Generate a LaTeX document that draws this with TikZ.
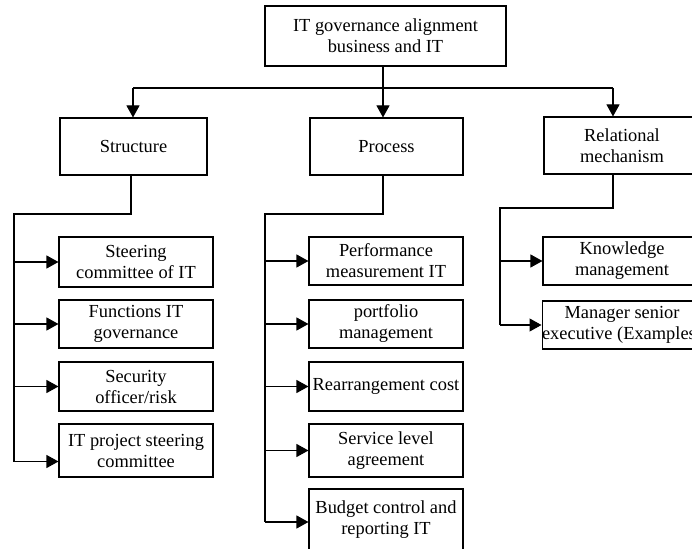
\documentclass[tikz,border=0pt]{standalone}
\usepackage{fontspec}
\setmainfont{Liberation Serif}
\usetikzlibrary{arrows.meta}
\begin{document}
\begin{tikzpicture}[x=1pt,y=1pt,
  box/.style={draw, line width=1.1pt, rectangle, inner sep=0pt, align=center,
    font=\fontsize{18.4}{21}\selectfont},
  link/.style={line width=1.1pt},
  arr/.style={line width=1.1pt, -{Triangle[length=12pt,width=13pt]}}]
\useasboundingbox (0,0) rectangle (692,-548);
\clip (0,0) rectangle (692,-548);
% top level
\node[box, minimum width=241pt, minimum height=60pt] (top) at (385.5,-36) {IT governance alignment\\business and IT};
\node[box, minimum width=147pt, minimum height=57pt] (struct) at (133.5,-146.5) {Structure};
\node[box, minimum width=153pt, minimum height=57pt] (proc) at (386.5,-146.5) {Process};
\node[box, minimum width=156pt, minimum height=57pt] (rel) at (622,-145.5) {Relational\\mechanism};
% structure children
\node[box, minimum width=154pt, minimum height=50pt] (s1) at (136,-262) {Steering\\committee of IT};
\node[box, minimum width=154pt, minimum height=48pt] (s2) at (136,-324) {Functions IT\\governance};
\node[box, minimum width=154pt, minimum height=49pt] (s3) at (136,-386.5) {Security\\officer/risk};
\node[box, minimum width=154pt, minimum height=53pt] (s4) at (136,-450.5) {IT project steering\\committee};
% process children
\node[box, minimum width=154pt, minimum height=48pt] (p1) at (386,-261) {Performance\\measurement IT};
\node[box, minimum width=154pt, minimum height=48pt] (p2) at (386,-324) {portfolio\\management};
\node[box, minimum width=154pt, minimum height=49pt] (p3) at (386,-386.5) {Rearrangement cost};
\node[box, minimum width=154pt, minimum height=53pt] (p4) at (386,-450.5) {Service level\\agreement};
\node[box, minimum width=154pt, minimum height=63pt, text depth=6pt] (p5) at (386,-520.5) {Budget control and\\reporting IT};
% relational children
\node[box, minimum width=158pt, minimum height=48pt] (r1) at (622,-261) {Knowledge\\management};
\node[box, minimum width=158pt, minimum height=48pt] (r2) at (622,-325) {Manager senior\\executive (Examples)};
% level 1 connectors
\coordinate (hub) at (383,-88);
\coordinate (hubL) at (133,-88);
\coordinate (hubR) at (613,-88);
\draw[link] (top.south -| hub) -- (hub);
\draw[link] (hubL) -- (hubR);
\draw[arr] (hubL) -- (hubL |- struct.north);
\draw[arr] (hub) -- (hub |- proc.north);
\draw[arr] (hubR) -- (hubR |- rel.north);
% structure spine
\coordinate (sj) at (131,-214);
\coordinate (sl) at (14,-214);
\coordinate (s4a) at ([yshift=-11pt]s4.west);
\draw[link] (struct.south -| sj) -- (sj) -- (sl) -- (sl |- s4a);
\draw[arr] (sl |- s1.west) -- (s1.west);
\draw[arr] (sl |- s2.west) -- (s2.west);
\draw[arr] (sl |- s3.west) -- (s3.west);
\draw[arr] (sl |- s4a) -- (s4a);
% process spine
\coordinate (pj) at (383,-214);
\coordinate (pl) at (265,-214);
\coordinate (p5a) at ([yshift=-1.5pt]p5.west);
\draw[link] (proc.south -| pj) -- (pj) -- (pl) -- (pl |- p5a);
\draw[arr] (pl |- p1.west) -- (p1.west);
\draw[arr] (pl |- p2.west) -- (p2.west);
\draw[arr] (pl |- p3.west) -- (p3.west);
\draw[arr] (pl |- p4.west) -- (p4.west);
\draw[arr] (pl |- p5a) -- (p5a);
% relational spine
\coordinate (rj) at (613,-208);
\coordinate (rl) at (500,-208);
\draw[link] (rel.south -| rj) -- (rj) -- (rl) -- (rl |- r2.west);
\draw[arr] (rl |- r1.west) -- (r1.west);
\draw[arr] (rl |- r2.west) -- (r2.west);
\end{tikzpicture}
\end{document}
